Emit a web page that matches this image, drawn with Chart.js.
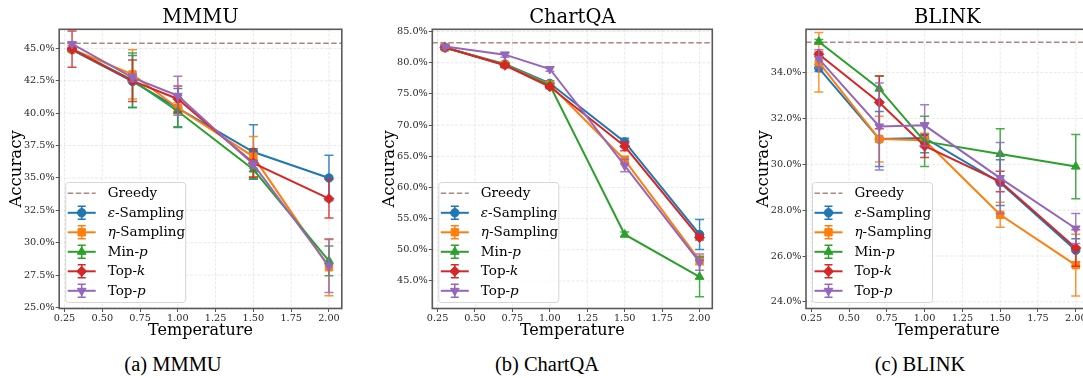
<!DOCTYPE html>
<html>
<head>
<meta charset="utf-8">
<script src="https://cdn.jsdelivr.net/npm/chart.js@4.4.1/dist/chart.umd.min.js"></script>
<style>
  body { margin: 0; width: 1083px; height: 378px; overflow: hidden; background: #fff; position: relative; }
  .panel { position: absolute; top: 0; height: 345px; }
  .cap { position: absolute; top: 354px; width: 220px; text-align: center; font-family: "Liberation Serif", serif; font-size: 20.5px; line-height: 20.5px; color: #000; }
</style>
</head>
<body>
<div class="panel" style="left:0;width:355px"><canvas id="mmmu"></canvas></div>
<div class="panel" style="left:361px;width:361px"><canvas id="chartqa"></canvas></div>
<div class="panel" style="left:722px;width:380px"><canvas id="blink"></canvas></div>
<div class="cap" style="left:63px">(a) MMMU</div>
<div class="cap" style="left:437px">(b) ChartQA</div>
<div class="cap" style="left:810px">(c) BLINK</div>
<script>
const temperatures = [0.3, 0.7, 1.0, 1.5, 2.0];
const temperatureTicks = [0.25, 0.5, 0.75, 1.0, 1.25, 1.5, 1.75, 2.0];
const methodNames = ["*ε*-Sampling", "*η*-Sampling", "Min-*p*", "Top-*k*", "Top-*p*"];

// MMMU
const mmmuTicks = [25, 27.5, 30, 32.5, 35, 37.5, 40, 42.5, 45];
const mmmuGreedy = 45.4;
const mmmuEps = [44.9, 42.45, 40.4, 37.0, 35.0];
const mmmuEpsErr = [0.15, 2.0, 1.5, 2.1, 1.75];
const mmmuEta = [44.95, 43.0, 40.4, 36.65, 28.1];
const mmmuEtaErr = [0.15, 1.9, 0.4, 1.55, 2.2];
const mmmuMinP = [44.95, 42.55, 40.15, 35.65, 28.6];
const mmmuMinPErr = [0.1, 2.1, 1.2, 0.7, 1.15];
const mmmuTopK = [44.95, 42.5, 41.1, 36.15, 33.4];
const mmmuTopKErr = [1.4, 1.6, 1.0, 1.1, 1.5];
const mmmuTopP = [45.35, 42.75, 41.35, 36.05, 28.2];
const mmmuTopPErr = [0.1, 0.3, 1.5, 0.3, 2.05];

// ChartQA
const chartqaTicks = [45, 50, 55, 60, 65, 70, 75, 80, 85];
const chartqaGreedy = 83.2;
const chartqaEps = [82.4, 79.8, 76.7, 67.3, 52.45];
const chartqaEpsErr = [0.3, 0.3, 0.4, 0.6, 2.4];
const chartqaEta = [82.45, 79.7, 76.5, 64.4, 48.3];
const chartqaEtaErr = [0.3, 0.3, 0.3, 0.6, 0.7];
const chartqaMinP = [82.45, 79.65, 76.4, 52.45, 45.65];
const chartqaMinPErr = [0.2, 0.3, 0.3, 0.4, 3.2];
const chartqaTopK = [82.45, 79.6, 76.15, 66.6, 51.95];
const chartqaTopKErr = [0.3, 0.3, 0.3, 0.7, 0.4];
const chartqaTopP = [82.6, 81.3, 79.0, 63.5, 48.0];
const chartqaTopPErr = [0.3, 0.4, 0.35, 1.0, 1.3];

// BLINK
const blinkTicks = [24, 26, 28, 30, 32, 34];
const blinkGreedy = 35.33;
const blinkEps = [34.2, 31.1, 31.15, 29.2, 26.25];
const blinkEpsErr = [0.15, 1.2, 0.65, 1.0, 0.5];
const blinkEta = [34.45, 31.1, 31.05, 27.8, 25.6];
const blinkEtaErr = [1.3, 1.0, 0.3, 0.55, 1.35];
const blinkMinP = [35.35, 33.3, 31.0, 30.45, 29.9];
const blinkMinPErr = [0.1, 0.55, 1.1, 1.1, 1.4];
const blinkTopK = [34.8, 32.7, 30.8, 29.25, 26.35];
const blinkTopKErr = [0.1, 1.15, 0.5, 0.45, 0.8];
const blinkTopP = [34.6, 31.65, 31.7, 29.4, 27.2];
const blinkTopPErr = [0.4, 1.9, 0.9, 1.55, 0.65];

const colors = ["#1f77b4", "#ff7f0e", "#2ca02c", "#d62728", "#9467bd"];
const markers = [
  { style: "circle", radius: 4.2, rotation: 0 },
  { style: "rect", radius: 5.2, rotation: 0 },
  { style: "triangle", radius: 5, rotation: 0 },
  { style: "rectRot", radius: 5, rotation: 0 },
  { style: "triangle", radius: 5, rotation: 180 }
];
const greedyColor = "rgba(140, 86, 75, 0.7)";
const serif = "'DejaVu Serif', serif";

function drawBar(ctx, x, y1, y2, cap) {
  ctx.beginPath();
  ctx.moveTo(x, y1); ctx.lineTo(x, y2);
  ctx.moveTo(x - cap, y1); ctx.lineTo(x + cap, y1);
  ctx.moveTo(x - cap, y2); ctx.lineTo(x + cap, y2);
  ctx.stroke();
}

function drawRich(ctx, text, x, y, size) {
  text.split("*").forEach((part, k) => {
    if (!part) return;
    ctx.font = (k % 2 ? "italic " : "") + size + "px " + serif;
    ctx.fillText(part, x, y);
    x += ctx.measureText(part).width;
  });
}

function makeChart(id, title, greedy, yTicks, yMin, yMax, series, yWidth, rightPad) {
  const datasets = series.map((s, i) => ({
    label: methodNames[i],
    data: temperatures.map((t, j) => ({ x: t, y: s[0][j] })),
    errors: s[1],
    borderColor: colors[i],
    backgroundColor: colors[i],
    borderWidth: 2,
    pointStyle: markers[i].style,
    pointRadius: markers[i].radius,
    pointRotation: markers[i].rotation,
    pointBorderWidth: 1,
    order: -i
  }));

  const decor = {
    id: "decor",
    beforeDatasetsDraw(chart) {
      const { ctx, chartArea: a, scales: { x, y } } = chart;
      ctx.save();
      ctx.strokeStyle = "rgba(176,176,176,0.35)";
      ctx.lineWidth = 0.8;
      ctx.setLineDash([3, 1.5]);
      temperatureTicks.forEach(v => {
        const px = x.getPixelForValue(v);
        ctx.beginPath(); ctx.moveTo(px, a.top); ctx.lineTo(px, a.bottom); ctx.stroke();
      });
      yTicks.forEach(v => {
        const py = y.getPixelForValue(v);
        ctx.beginPath(); ctx.moveTo(a.left, py); ctx.lineTo(a.right, py); ctx.stroke();
      });
      // greedy reference
      ctx.strokeStyle = greedyColor;
      ctx.lineWidth = 1.5;
      ctx.setLineDash([5.5, 2.5]);
      const gy = y.getPixelForValue(greedy);
      ctx.beginPath(); ctx.moveTo(a.left, gy); ctx.lineTo(a.right, gy); ctx.stroke();
      ctx.restore();
    },
    beforeDatasetDraw(chart, args) {
      const { ctx, chartArea: a, scales: { y } } = chart;
      const ds = chart.data.datasets[args.index];
      ctx.save();
      ctx.beginPath(); ctx.rect(a.left, a.top, a.right - a.left, a.bottom - a.top); ctx.clip();
      ctx.strokeStyle = ds.borderColor;
      ctx.globalAlpha = 0.85;
      ctx.lineWidth = 1.5;
      args.meta.data.forEach((pt, j) => {
        const v = ds.data[j].y, e = ds.errors[j];
        drawBar(ctx, pt.x, y.getPixelForValue(v + e), y.getPixelForValue(v - e), 4.5);
      });
      ctx.restore();
    },
    afterDatasetsDraw(chart) {
      const { ctx, chartArea: a } = chart;
      ctx.save();
      // frame
      ctx.strokeStyle = "#5a5a5a";
      ctx.lineWidth = 1.6;
      ctx.strokeRect(a.left, a.top, a.right - a.left, a.bottom - a.top);
      // title
      ctx.fillStyle = "#000";
      ctx.font = "19.5px " + serif;
      ctx.textAlign = "center";
      ctx.textBaseline = "alphabetic";
      ctx.fillText(title, (a.left + a.right) / 2, 22.5);
      // legend
      const bx = a.left + 6.5, bw = 120, bh = 120, by = a.bottom - 6 - bh;
      ctx.beginPath();
      ctx.roundRect(bx, by, bw, bh, 3);
      ctx.fillStyle = "rgba(255,255,255,0.85)";
      ctx.fill();
      ctx.strokeStyle = "#d6d6d6";
      ctx.lineWidth = 1;
      ctx.stroke();
      const hx1 = bx + 2, hx2 = bx + 30, hm = (hx1 + hx2) / 2, tx = bx + 42;
      ctx.textAlign = "left";
      ctx.textBaseline = "middle";
      let ry = by + 10.8;
      ctx.strokeStyle = greedyColor;
      ctx.lineWidth = 1.5;
      ctx.setLineDash([5.5, 2.5]);
      ctx.beginPath(); ctx.moveTo(hx1, ry); ctx.lineTo(hx2, ry); ctx.stroke();
      ctx.setLineDash([]);
      ctx.fillStyle = "#000";
      drawRich(ctx, "Greedy", tx, ry + 0.5, 13.5);
      methodNames.forEach((name, i) => {
        ry += 19.5;
        ctx.strokeStyle = colors[i];
        ctx.fillStyle = colors[i];
        ctx.lineWidth = 2;
        ctx.beginPath(); ctx.moveTo(hx1, ry); ctx.lineTo(hx2, ry); ctx.stroke();
        ctx.lineWidth = 1.5;
        drawBar(ctx, hm, ry - 6.5, ry + 6.5, 4);
        ctx.lineWidth = 1;
        Chart.helpers.drawPoint(ctx, { pointStyle: markers[i].style, radius: markers[i].radius, rotation: markers[i].rotation, borderWidth: 1 }, hm, ry);
        ctx.fillStyle = "#000";
        drawRich(ctx, name, tx, ry + 0.5, 13.5);
      });
      ctx.restore();
    }
  };

  return new Chart(document.getElementById(id), {
    type: "line",
    data: { datasets },
    options: {
      responsive: true,
      maintainAspectRatio: false,
      animation: false,
      layout: { padding: { left: 0, right: rightPad, top: 29.3, bottom: 0 } },
      plugins: { legend: { display: false }, tooltip: { enabled: false } },
      scales: {
        x: {
          type: "linear", min: 0.215, max: 2.085,
          afterBuildTicks: s => { s.ticks = temperatureTicks.map(v => ({ value: v })); },
          afterFit: s => { s.height = 36.5; },
          ticks: { autoSkip: false, maxRotation: 0, padding: 1, color: "#262626", font: { family: serif, size: 9.7 }, callback: v => v.toFixed(2) },
          grid: { drawOnChartArea: false, tickLength: 3.5, tickColor: "#555", tickWidth: 1 },
          border: { display: false },
          title: { display: true, text: "Temperature", color: "#000", font: { family: serif, size: 16 }, padding: { top: 0, bottom: 4.7 } }
        },
        y: {
          min: yMin, max: yMax,
          afterBuildTicks: s => { s.ticks = yTicks.map(v => ({ value: v })); },
          afterFit: s => { s.width = yWidth; },
          ticks: { autoSkip: false, padding: 1, color: "#262626", font: { family: serif, size: 9.7 }, callback: v => v.toFixed(1) + "%" },
          grid: { drawOnChartArea: false, tickLength: 3.5, tickColor: "#555", tickWidth: 1 },
          border: { display: false },
          title: { display: true, text: "Accuracy", color: "#000", font: { family: serif, size: 16.5 }, padding: { top: yWidth - 52.5, bottom: 0 } }
        }
      }
    },
    plugins: [decor]
  });
}

makeChart("mmmu", "MMMU", mmmuGreedy, mmmuTicks, 24.92, 46.48, [
  [mmmuEps, mmmuEpsErr], [mmmuEta, mmmuEtaErr], [mmmuMinP, mmmuMinPErr], [mmmuTopK, mmmuTopKErr], [mmmuTopP, mmmuTopPErr]
], 59.2, 13.2);

makeChart("chartqa", "ChartQA", chartqaGreedy, chartqaTicks, 40.57, 85.37, [
  [chartqaEps, chartqaEpsErr], [chartqaEta, chartqaEtaErr], [chartqaMinP, chartqaMinPErr], [chartqaTopK, chartqaTopKErr], [chartqaTopP, chartqaTopPErr]
], 71.3, 9.7);

makeChart("blink", "BLINK", blinkGreedy, blinkTicks, 23.71, 35.89, [
  [blinkEps, blinkEpsErr], [blinkEta, blinkEtaErr], [blinkMinP, blinkMinPErr], [blinkTopK, blinkTopKErr], [blinkTopP, blinkTopPErr]
], 84, 13.4);
</script>
</body>
</html>
